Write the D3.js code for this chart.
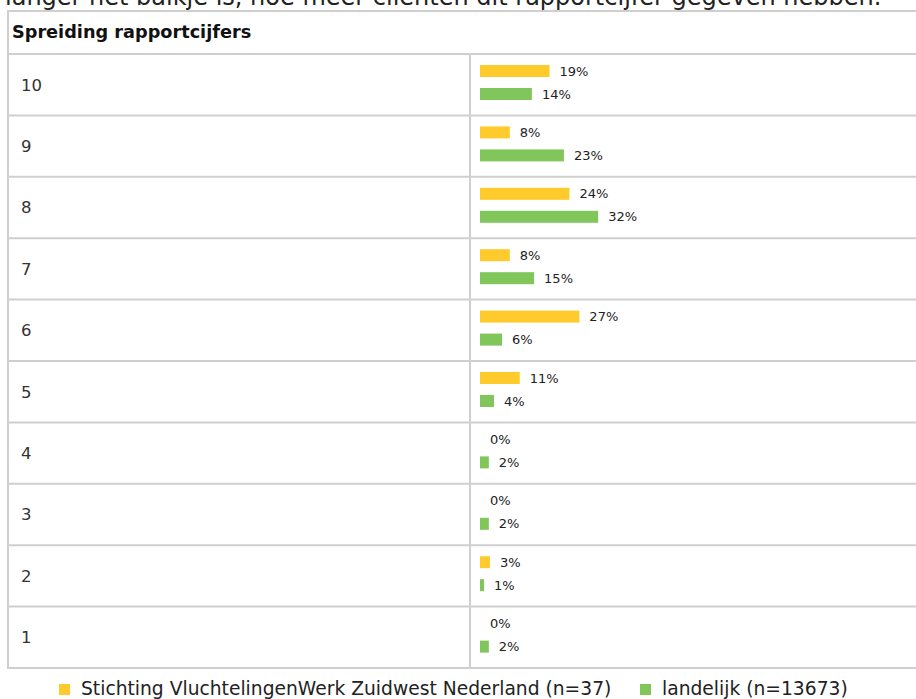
<!DOCTYPE html>
<html>
<head>
<meta charset="utf-8">
<script src="https://cdn.jsdelivr.net/npm/d3@7"></script>
<style>
  body { margin: 0; background: #fff; overflow: hidden; }
  text { font-family: "DejaVu Sans", Verdana, sans-serif; }
</style>
</head>
<body>
<div id="chart"></div>
<script>
const categories = ["10", "9", "8", "7", "6", "5", "4", "3", "2", "1"];
const seriesNames = ["Stichting VluchtelingenWerk Zuidwest Nederland (n=37)", "landelijk (n=13673)"];
const vluchtelingenwerk = [18.9, 8.1, 24.3, 8.1, 27.0, 10.8, 0, 0, 2.7, 0];
const landelijk = [14.1, 22.8, 32.1, 14.7, 6.0, 3.8, 2.4, 2.4, 1.1, 2.4];
const seriesColors = ["#ffca2c", "#80c65a"];

(function spreiding() {
  const width = 916,
    height = 699,
    table = {left: 8, top: 11, header: 54, bottom: 668, divider: 470};

  const svg = d3.select("#chart")
    .append("svg")
    .attr("width", width)
    .attr("height", height);

  const rows = categories.map((c, i) => ({cat: c, values: [vluchtelingenwerk[i], landelijk[i]]}));

  let y = d3.scaleBand(categories, [table.header, table.bottom]);
  let sub = d3.scalePoint(seriesNames, [17, 40]);
  let x = d3.scaleLinear([0, 100], [480, 848]);
  const color = d3.scaleOrdinal(seriesNames, seriesColors);

  // intro line, cut off at the top like in the source
  svg.append("text")
    .attr("x", 5)
    .attr("y", 4.5)
    .attr("fill", "#222")
    .style("font-size", "24px")
    .text("langer het balkje is, hoe meer cliënten dit rapportcijfer gegeven hebben.");

  // table lines
  const lineColor = "#cfcfcf";
  const hLines = [table.top, table.header].concat(categories.map(c => y(c) + y.bandwidth()));
  svg.append("g")
    .selectAll("line")
    .data(hLines)
    .join("line")
    .attr("x1", table.left - 1)
    .attr("x2", width)
    .attr("y1", d => d)
    .attr("y2", d => d)
    .attr("stroke", lineColor)
    .attr("stroke-width", 2);

  svg.append("line")
    .attr("x1", table.left).attr("x2", table.left)
    .attr("y1", table.top).attr("y2", table.bottom + 1)
    .attr("stroke", lineColor).attr("stroke-width", 2);

  svg.append("line")
    .attr("x1", table.divider).attr("x2", table.divider)
    .attr("y1", table.header).attr("y2", table.bottom)
    .attr("stroke", lineColor).attr("stroke-width", 2);

  svg.append("text")
    .attr("x", 12)
    .attr("y", 38)
    .attr("fill", "#111")
    .style("font-size", "17.7px")
    .style("font-weight", "bold")
    .text("Spreiding rapportcijfers");

  const row = svg.append("g")
    .selectAll("g")
    .data(rows)
    .join("g")
    .attr("transform", d => `translate(0,${y(d.cat)})`);

  row.append("text")
    .attr("x", 21)
    .attr("y", y.bandwidth() / 2)
    .attr("dy", "0.36em")
    .attr("fill", "#333")
    .style("font-size", "16.5px")
    .text(d => d.cat);

  const bar = row.selectAll(".bar")
    .data(d => d.values.map((v, i) => ({key: seriesNames[i], value: v})))
    .join("g")
    .attr("class", "bar");

  bar.append("rect")
    .attr("x", x(0))
    .attr("y", d => sub(d.key) - 6)
    .attr("width", d => x(d.value) - x(0))
    .attr("height", 12)
    .attr("fill", d => color(d.key));

  bar.append("text")
    .attr("x", d => x(d.value) + 10)
    .attr("y", d => sub(d.key))
    .attr("dy", "0.36em")
    .attr("fill", "#222")
    .style("font-size", "13px")
    .text(d => Math.round(d.value) + "%");

  // legend
  let legendGroup = svg
    .selectAll(".legend-group")
    .data(seriesNames)
    .join("g")
    .attr("class", "legend-group");

  const legendX = [59, 640];

  legendGroup
    .append("rect")
    .attr("x", (d, i) => legendX[i])
    .attr("y", 684)
    .attr("width", 11)
    .attr("height", 11)
    .attr("fill", d => color(d));

  legendGroup
    .append("text")
    .attr("x", (d, i) => legendX[i] + 22)
    .attr("y", 695)
    .attr("fill", "#222")
    .style("font-size", "18.7px")
    .text(d => d);
})();
</script>
</body>
</html>
